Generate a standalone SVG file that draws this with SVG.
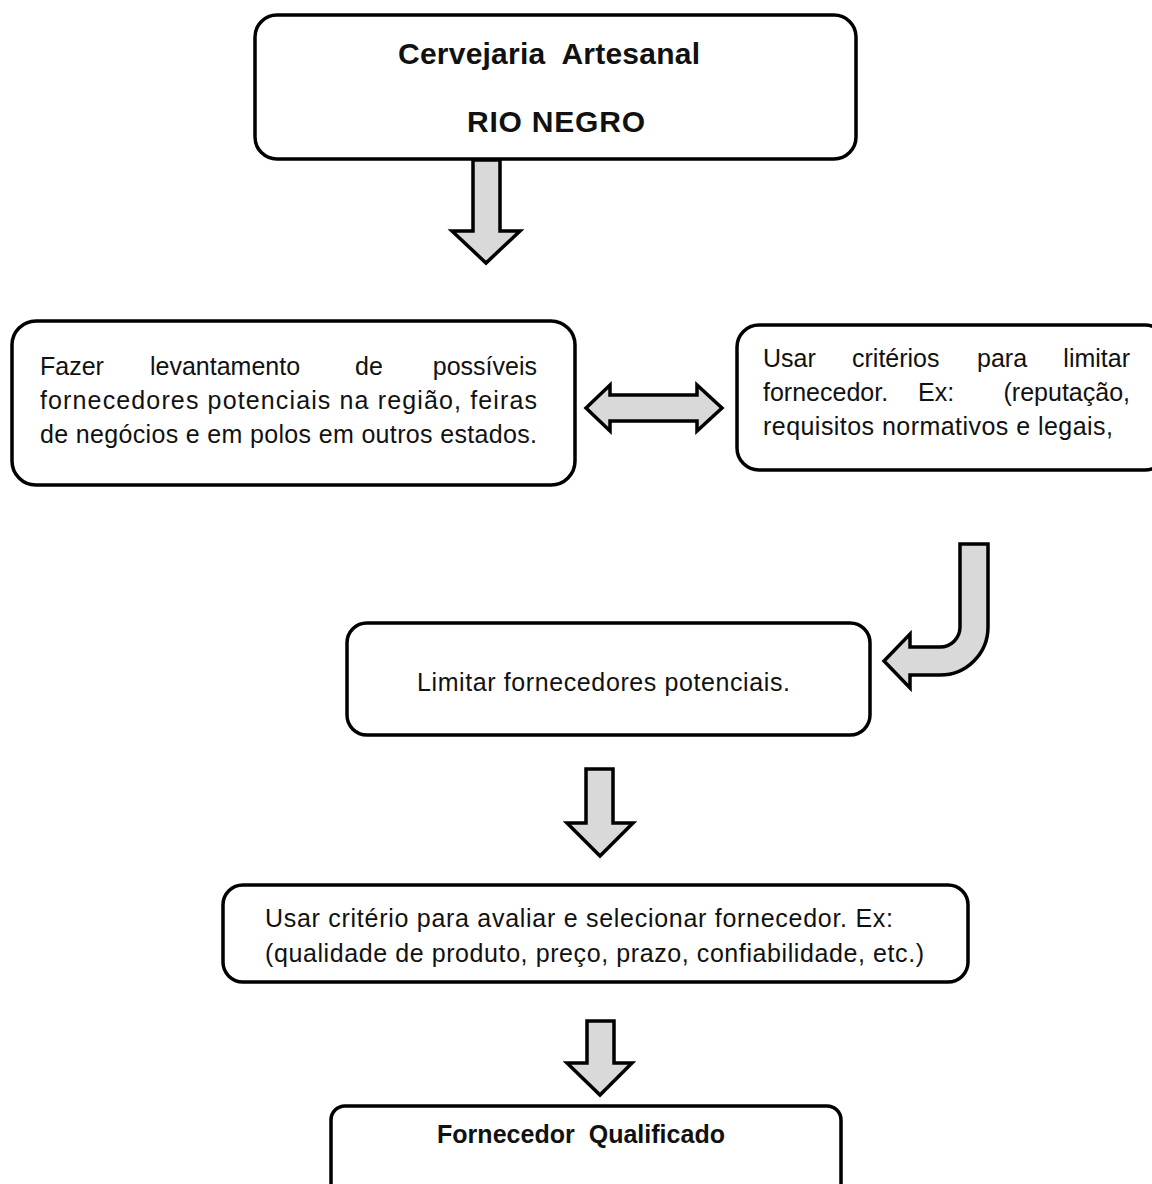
<svg xmlns="http://www.w3.org/2000/svg" width="1152" height="1184" viewBox="0 0 1152 1184">
<style>
.box{fill:#fff;stroke:#000;stroke-width:3.5}
.arr{fill:#d9d9d9;stroke:#000;stroke-width:3.5;stroke-linejoin:miter}
.t{font-family:"Liberation Sans",Arial,sans-serif;font-size:25px;fill:#111}
.b{font-family:"Liberation Sans",Arial,sans-serif;font-weight:bold;fill:#111}
</style>
<rect width="1152" height="1184" fill="#fff"/>
<g id="node-cervejaria">
<rect class="box" x="255" y="15" width="601" height="144" rx="22"/>
<text class="b" x="549" y="64" font-size="30" text-anchor="middle" textLength="302" lengthAdjust="spacing" xml:space="preserve">Cervejaria  Artesanal</text>
<text class="b" x="556" y="132" font-size="30" text-anchor="middle" textLength="178" lengthAdjust="spacing">RIO NEGRO</text>
</g>
<g id="node-levantamento">
<rect class="box" x="12" y="321" width="563" height="164" rx="24"/>
<text class="t" x="40" y="375">Fazer</text>
<text class="t" x="150" y="375">levantamento</text>
<text class="t" x="355" y="375">de</text>
<text class="t" x="537" y="375" text-anchor="end">possíveis</text>
<text class="t" x="40" y="409" textLength="497" lengthAdjust="spacing">fornecedores potenciais na região, feiras</text>
<text class="t" x="40" y="443" textLength="497" lengthAdjust="spacing">de negócios e em polos em outros estados.</text>
</g>
<g id="node-criterios">
<rect class="box" x="737" y="325" width="430" height="145" rx="22"/>
<text class="t" x="763" y="367">Usar</text>
<text class="t" x="852" y="367">critérios</text>
<text class="t" x="977" y="367">para</text>
<text class="t" x="1130" y="367" text-anchor="end">limitar</text>
<text class="t" x="763" y="401">fornecedor.</text>
<text class="t" x="918" y="401">Ex:</text>
<text class="t" x="1130" y="401" text-anchor="end">(reputação,</text>
<text class="t" x="763" y="435" textLength="350" lengthAdjust="spacing">requisitos normativos e legais,</text>
</g>
<g id="node-limitar">
<rect class="box" x="347" y="623" width="523" height="112" rx="20"/>
<text class="t" x="417" y="691" textLength="373" lengthAdjust="spacing">Limitar fornecedores potenciais.</text>
</g>
<g id="node-avaliar">
<rect class="box" x="223" y="885" width="745" height="97" rx="20"/>
<text class="t" x="265" y="927" textLength="628" lengthAdjust="spacing">Usar critério para avaliar e selecionar fornecedor. Ex:</text>
<text class="t" x="265" y="962" textLength="659" lengthAdjust="spacing">(qualidade de produto, preço, prazo, confiabilidade, etc.)</text>
</g>
<g id="node-qualificado">
<rect class="box" x="331" y="1106" width="510" height="110" rx="14"/>
<text class="b" x="437" y="1143" font-size="25" textLength="288" lengthAdjust="spacing" xml:space="preserve">Fornecedor  Qualificado</text>
</g>
<g id="connectors">
<path class="arr" d="M473,160 H500 V231 H520 L486,263 L452,231 H473 Z"/>
<path class="arr" d="M586,408 L610,385 V395 H697 V385 L722,408 L697,431 V421 H610 V431 Z"/>
<path class="arr" d="M960,544 H988 V627 A48,48 0 0 1 940,675 H910 V688 L884,661 L910,634 V647 H940 A20,20 0 0 0 960,627 Z"/>
<path class="arr" d="M586,769 H613 V823 H633 L600,856 L567,823 H586 Z"/>
<path class="arr" d="M587,1021 H614 V1063 H632 L600,1095 L567,1063 H587 Z"/>
</g>
</svg>
